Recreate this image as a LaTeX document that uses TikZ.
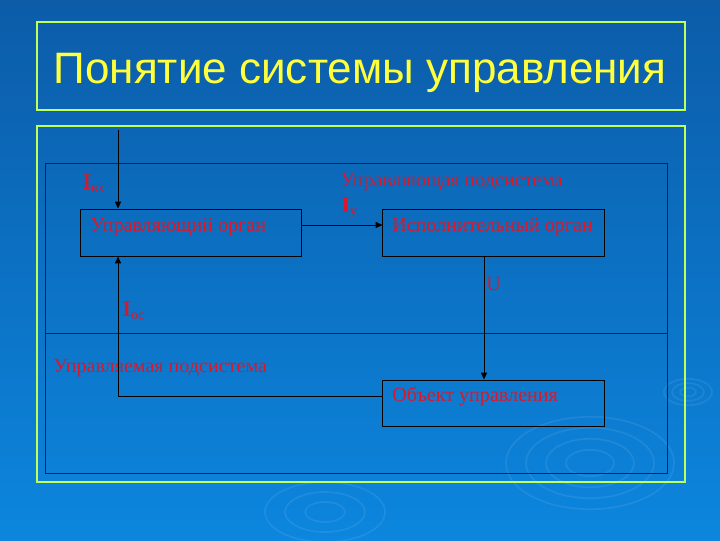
\documentclass[tikz,border=0pt]{standalone}
\usepackage{fontspec}
\setmainfont{Liberation Serif}
\newfontfamily\titlefont{Liberation Sans}
\usetikzlibrary{arrows.meta,positioning,calc}
\definecolor{BgTop}{RGB}{12,92,168}
\definecolor{BgBottom}{RGB}{12,134,222}
\definecolor{FrameGreen}{RGB}{190,255,90}
\definecolor{TitleYellow}{RGB}{255,255,60}
\definecolor{LabelRed}{RGB}{215,25,45}
\definecolor{Navy}{RGB}{15,30,80}
\newcommand{\bigI}{{\fontsize{16pt}{18pt}\selectfont\bfseries I}}
\tikzset{
  frame/.style={draw=FrameGreen,line width=0.8pt},
  subsys/.style={draw=Navy,line width=0.7pt},
  organ/.style={draw=black,line width=0.7pt,minimum width=5.5cm,minimum height=1.175cm,inner sep=0pt},
  lbl/.style={text=LabelRed,font=\fontsize{14.3pt}{16pt}\selectfont,inner sep=0pt,anchor=base west},
  sig/.style={->,>={Triangle[length=0.17cm,width=0.15cm]},draw=black,line width=0.7pt},
  ripple/.style={draw=white,opacity=0.08,line width=1.2pt}
}

\begin{document}
\begin{tikzpicture}[x=0.025cm,y=-0.025cm]
\shade[top color=BgTop,bottom color=BgBottom] (0,0) rectangle (720,540);
\useasboundingbox (0,0) rectangle (720,540);
\foreach \r in {0.6,1.1,1.6,2.1}{\draw[ripple] (590,463) ellipse ({\r cm} and {0.55*\r cm});}
\foreach \r in {0.2,0.4,0.6}{\draw[ripple] (688,392) ellipse ({\r cm} and {0.55*\r cm});}
\foreach \r in {0.5,1.0,1.5}{\draw[ripple] (325,512) ellipse ({\r cm} and {0.5*\r cm});}

\draw[frame] (37,22) rectangle (685,110);
\draw[frame] (37,126) rectangle (685,482);
\draw[subsys] (45,163) rectangle (667,473);
\draw[subsys] (45,333) -- (667,333);

\node[text=TitleYellow,font=\titlefont\fontsize{31.3pt}{36pt}\selectfont,anchor=base,inner sep=0pt] (title) at (360,83) {Понятие системы управления};

\node[organ] (ctrl) at (191,232.5) {};
\node[organ,minimum width=5.525cm] (exec) at (493.5,232.5) {};
\node[organ,minimum width=5.525cm,minimum height=1.15cm] (obj) at (493.5,403) {};

\node[lbl] (ctrltext) at (90,231) {Управляющий орган};
\node[lbl] (exectext) at (392,231) {Исполнительный орган};
\node[lbl] (objtext) at (392,401) {Объект управления};
\node[lbl] (upper) at (340,186) {Управляющая подсистема};
\node[lbl] (lower) at (53,372) {Управляемая подсистема};
\node[lbl] (iin) at (82,189) {\bigI\textsubscript{вх}};
\node[lbl] (iu) at (341,212) {\bigI\textsubscript{у}};
\node[lbl] (ios) at (122,316) {\bigI\textsubscript{ос}};
\node[lbl] (u) at (486,290) {U};

\coordinate (in) at (118,130);
\draw[sig] (in) -- (in |- ctrl.north);
\draw[sig] ([yshift=0.1875cm]ctrl.east) -- ([yshift=0.1875cm]exec.west);
\draw[sig] ([xshift=-0.2375cm]exec.south) -- ([xshift=-0.2375cm]exec.south |- obj.north);
\draw[sig] ([yshift=0.175cm]obj.west) -| (in |- ctrl.south);
\end{tikzpicture}
\end{document}
